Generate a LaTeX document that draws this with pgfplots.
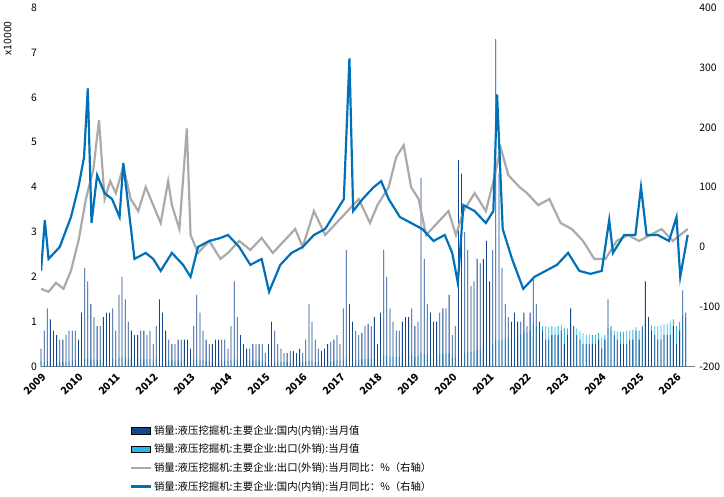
\documentclass[border=0pt]{standalone}
\usepackage{pgfplots}
\usepackage{pgfplotstable}
\pgfplotsset{compat=1.18}
\usepackage{fontspec}
\setmainfont{Noto Sans CJK SC}
\definecolor{dk}{RGB}{20,70,140}
\definecolor{lt}{RGB}{40,185,230}
\definecolor{gr}{RGB}{170,170,170}
\definecolor{ln}{RGB}{0,112,185}
\pgfplotstableread[row sep=\\]{
dom exp\\
0.4 0.12\\ 0.8 0.1\\ 1.3 0.12\\ 1.05 0.1\\ 0.8 0.1\\ 0.7 0.1\\ 0.6 0.1\\ 0.6 0.1\\ 0.7 0.1\\ 0.8 0.12\\ 0.8 0.12\\ 0.8 0.13\\
0.6 0.12\\ 1.2 0.15\\ 2.2 0.18\\ 1.9 0.18\\ 1.4 0.16\\ 1.1 0.15\\ 0.9 0.15\\ 0.9 0.15\\ 1.1 0.16\\ 1.2 0.16\\ 1.2 0.17\\ 1.3 0.18\\
0.8 0.15\\ 1.6 0.2\\ 2.0 0.22\\ 1.5 0.2\\ 1.0 0.18\\ 0.8 0.17\\ 0.7 0.16\\ 0.7 0.16\\ 0.8 0.16\\ 0.8 0.16\\ 0.7 0.16\\ 0.8 0.17\\
0.5 0.14\\ 0.9 0.17\\ 1.5 0.2\\ 1.2 0.18\\ 0.8 0.16\\ 0.6 0.15\\ 0.5 0.14\\ 0.5 0.14\\ 0.6 0.14\\ 0.6 0.14\\ 0.6 0.14\\ 0.6 0.15\\
0.4 0.12\\ 0.9 0.14\\ 1.6 0.17\\ 1.2 0.15\\ 0.8 0.14\\ 0.6 0.13\\ 0.5 0.13\\ 0.5 0.13\\ 0.6 0.13\\ 0.6 0.13\\ 0.6 0.13\\ 0.6 0.14\\
0.4 0.12\\ 0.9 0.14\\ 1.9 0.17\\ 1.1 0.15\\ 0.7 0.14\\ 0.5 0.13\\ 0.4 0.13\\ 0.4 0.13\\ 0.5 0.13\\ 0.5 0.13\\ 0.5 0.13\\ 0.5 0.14\\
0.3 0.1\\ 0.5 0.12\\ 1.0 0.14\\ 0.8 0.13\\ 0.5 0.12\\ 0.4 0.11\\ 0.3 0.1\\ 0.3 0.1\\ 0.35 0.1\\ 0.35 0.1\\ 0.3 0.1\\ 0.4 0.11\\
0.3 0.1\\ 0.6 0.11\\ 1.4 0.13\\ 1.0 0.12\\ 0.6 0.11\\ 0.4 0.1\\ 0.35 0.1\\ 0.4 0.1\\ 0.5 0.11\\ 0.55 0.11\\ 0.6 0.12\\ 0.7 0.13\\
0.5 0.12\\ 1.3 0.15\\ 2.6 0.18\\ 1.4 0.16\\ 1.0 0.15\\ 0.8 0.15\\ 0.7 0.15\\ 0.75 0.16\\ 0.9 0.17\\ 0.95 0.17\\ 0.9 0.18\\ 1.1 0.19\\
0.5 0.18\\ 1.2 0.2\\ 2.6 0.25\\ 2.0 0.24\\ 1.3 0.22\\ 1.0 0.22\\ 0.8 0.21\\ 0.8 0.22\\ 1.0 0.23\\ 1.1 0.23\\ 1.1 0.24\\ 1.3 0.26\\
0.9 0.22\\ 1.0 0.24\\ 4.2 0.3\\ 2.4 0.28\\ 1.4 0.26\\ 1.2 0.25\\ 1.0 0.25\\ 1.0 0.26\\ 1.2 0.27\\ 1.3 0.27\\ 1.3 0.28\\ 1.6 0.3\\
0.7 0.2\\ 0.9 0.2\\ 4.6 0.3\\ 4.3 0.3\\ 3.0 0.3\\ 2.6 0.32\\ 1.8 0.33\\ 1.9 0.35\\ 2.4 0.38\\ 2.3 0.4\\ 2.4 0.42\\ 2.8 0.45\\
1.9 0.45\\ 2.6 0.5\\ 7.3 0.6\\ 4.3 0.6\\ 2.2 0.6\\ 1.4 0.6\\ 1.1 0.62\\ 1.0 0.65\\ 1.2 0.7\\ 1.0 0.7\\ 1.0 0.72\\ 1.2 0.78\\
0.9 0.75\\ 1.2 0.8\\ 2.0 0.95\\ 1.4 0.9\\ 1.0 0.9\\ 0.8 0.9\\ 0.6 0.9\\ 0.6 0.88\\ 0.7 0.9\\ 0.7 0.88\\ 0.7 0.9\\ 0.8 0.92\\
0.5 0.85\\ 0.7 0.85\\ 1.3 0.95\\ 0.9 0.9\\ 0.7 0.85\\ 0.6 0.8\\ 0.5 0.75\\ 0.5 0.7\\ 0.5 0.72\\ 0.5 0.7\\ 0.5 0.7\\ 0.6 0.75\\
0.4 0.65\\ 0.6 0.7\\ 1.5 0.85\\ 0.9 0.8\\ 0.7 0.8\\ 0.6 0.78\\ 0.5 0.78\\ 0.5 0.78\\ 0.5 0.8\\ 0.6 0.8\\ 0.6 0.82\\ 0.8 0.88\\
0.6 0.8\\ 0.9 0.85\\ 1.9 1.0\\ 1.1 0.95\\ 0.8 0.92\\ 0.7 0.9\\ 0.6 0.9\\ 0.6 0.92\\ 0.7 0.95\\ 0.7 0.95\\ 0.7 1.0\\ 0.9 1.05\\
0.5 0.9\\ 0.8 1.0\\ 1.7 1.15\\ 1.2 1.1\\
}\bars
\begin{document}
\begin{tikzpicture}
\begin{axis}[name=main, scale only axis, width=565bp, height=310bp,
  xmin=2009, xmax=2026.5, ymin=0, ymax=8,
  axis y line*=left, axis x line*=bottom,
  xtick={2009,...,2026}, xticklabel style={rotate=45, anchor=north east, font=\small\bfseries},
  /pgf/number format/1000 sep={}, /pgf/number format/assume math mode=true,
  ytick={0,...,8}, yticklabel style={font=\small},
  y axis line style={draw=none}, ytick style={draw=none}, xtick style={draw=none},
  x axis line style={gray},
  clip=false,
  legend style={at={(0.13,-0.15)}, anchor=north west, draw=none, font=\small, row sep=3pt, legend cell align=left},
  ]
\node[rotate=90, anchor=south east, font=\small] at (rel axis cs:0,1) [xshift=-2bp, yshift=0bp] at ([xshift=-22bp]rel axis cs:0,0.98) {x10000};
\addplot[ybar, bar width=0.7bp, fill=lt, draw=none, forget plot] table[x expr=2009+\coordindex/12, y=exp] {\bars};
\addplot[ybar, bar width=0.7bp, fill=dk, draw=none, forget plot] table[x expr=2009+\coordindex/12, y=dom] {\bars};
\addlegendimage{area legend, fill=dk, draw=none}
\addlegendimage{area legend, fill=lt, draw=none}
\addlegendimage{gr, line width=2pt}
\addlegendimage{ln, line width=2pt}
\legend{销量:液压挖掘机:主要企业:国内(内销):当月值, 销量:液压挖掘机:主要企业:出口(外销):当月值, 销量:液压挖掘机:主要企业:出口(外销):当月同比：\%（右轴）, 销量:液压挖掘机:主要企业:国内(内销):当月同比：\%（右轴）}
\end{axis}
\begin{axis}[scale only axis, width=565bp, height=310bp,
  xmin=2009, xmax=2026.5, ymin=-200, ymax=400,
  axis y line*=right, axis x line=none, ytick={-200,-100,...,400},
  yticklabel style={font=\small}, y axis line style={draw=none}, ytick style={draw=none},
  /pgf/number format/assume math mode=true]
\addplot[gr, line width=1.9pt] coordinates {(2009.0,-70)(2009.2,-75)(2009.4,-60)(2009.6,-70)(2009.8,-40)(2010.0,10)(2010.2,80)(2010.4,130)(2010.55,212)(2010.7,80)(2010.85,110)(2011.0,90)(2011.2,135)(2011.4,80)(2011.6,60)(2011.8,100)(2012.0,70)(2012.2,40)(2012.4,110)(2012.5,70)(2012.7,30)(2012.9,198)(2013.0,20)(2013.2,-10)(2013.5,10)(2013.8,-20)(2014.0,-10)(2014.3,10)(2014.6,-5)(2014.9,15)(2015.2,-10)(2015.5,10)(2015.8,30)(2016.0,0)(2016.3,60)(2016.6,20)(2016.9,40)(2017.2,60)(2017.5,80)(2017.8,40)(2018.0,70)(2018.3,100)(2018.5,150)(2018.7,170)(2018.9,100)(2019.1,80)(2019.3,20)(2019.6,40)(2019.9,60)(2020.1,20)(2020.3,60)(2020.6,90)(2020.9,60)(2021.1,110)(2021.3,165)(2021.5,120)(2021.8,100)(2022.0,90)(2022.3,70)(2022.6,80)(2022.9,40)(2023.2,30)(2023.5,10)(2023.8,-20)(2024.1,-20)(2024.4,10)(2024.7,20)(2025.0,10)(2025.3,20)(2025.6,30)(2025.9,10)(2026.3,30)};
\addplot[ln, line width=1.9pt] coordinates {(2009.0,-40)(2009.1,45)(2009.2,-20)(2009.5,0)(2009.8,50)(2010.0,100)(2010.15,150)(2010.25,265)(2010.35,40)(2010.5,120)(2010.7,90)(2010.9,80)(2011.1,50)(2011.2,140)(2011.35,60)(2011.5,-20)(2011.8,-10)(2012.0,-20)(2012.2,-40)(2012.5,-10)(2012.8,-30)(2013.0,-50)(2013.2,0)(2013.5,10)(2013.8,15)(2014.0,20)(2014.3,0)(2014.6,-30)(2014.9,-20)(2015.1,-75)(2015.4,-30)(2015.7,-10)(2016.0,0)(2016.3,20)(2016.6,30)(2016.9,60)(2017.1,80)(2017.25,315)(2017.35,60)(2017.6,80)(2017.9,100)(2018.1,110)(2018.3,80)(2018.6,50)(2018.9,40)(2019.2,30)(2019.5,10)(2019.8,20)(2020.0,-10)(2020.15,-60)(2020.3,70)(2020.6,60)(2020.9,40)(2021.1,60)(2021.2,255)(2021.35,30)(2021.6,-20)(2021.9,-70)(2022.2,-50)(2022.5,-40)(2022.8,-30)(2023.1,-10)(2023.4,-40)(2023.7,-45)(2024.0,-40)(2024.2,45)(2024.3,-10)(2024.6,20)(2024.9,20)(2025.05,100)(2025.2,20)(2025.5,20)(2025.8,10)(2026.0,50)(2026.1,-50)(2026.3,20)};
\end{axis}
\end{tikzpicture}
\end{document}
